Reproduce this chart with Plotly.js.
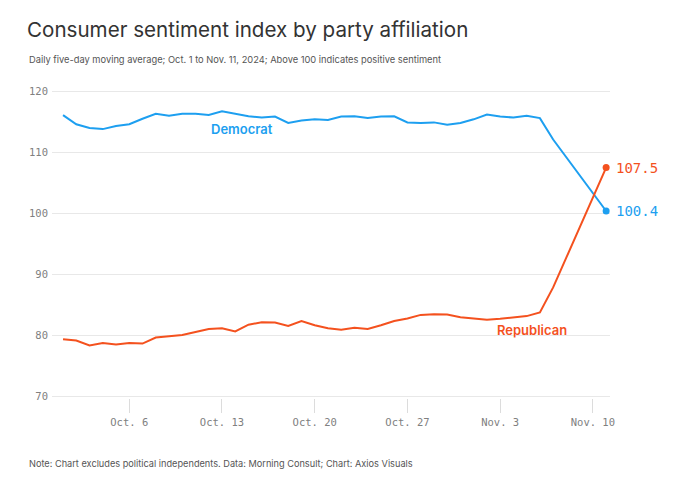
<!DOCTYPE html>
<html>
<head>
<meta charset="utf-8">
<script src="https://cdn.plot.ly/plotly-3.0.1.min.js"></script>
<style>html,body{margin:0;padding:0;background:#fff;}#chart{width:680px;height:483px;}</style>
</head>
<body>
<div id="chart"></div>
<script>
// Dates: Oct. 1 to Nov. 11, 2024 (daily)
const nDays = 42;
const dates = [];
for (let i = 0; i < nDays; i++) {
  const d = new Date(Date.UTC(2024, 9, 1 + i));
  dates.push(d.toISOString().slice(0, 10));
}

const democrat = [116.1, 114.6, 114.0, 113.8, 114.3, 114.6, 115.5, 116.3, 116.0, 116.3,
  116.3, 116.1, 116.7, 116.3, 115.9, 115.7, 115.85, 114.8, 115.2, 115.4,
  115.3, 115.85, 115.9, 115.6, 115.85, 115.9, 114.9, 114.8, 114.9, 114.5,
  114.8, 115.4, 116.2, 115.85, 115.7, 116.0, 115.6, 112.1, 109.2, 106.3,
  103.2, 100.4];

const republican = [79.4, 79.2, 78.4, 78.8, 78.55, 78.8, 78.7, 79.7, 79.9, 80.1,
  80.6, 81.1, 81.2, 80.7, 81.8, 82.2, 82.15, 81.6, 82.4, 81.7,
  81.2, 80.95, 81.3, 81.1, 81.7, 82.4, 82.8, 83.4, 83.5, 83.45,
  83.0, 82.75, 82.6, 82.75, 82.95, 83.2, 83.8, 87.9, 92.8, 97.8,
  102.7, 107.5];

const xTickVals = ['2024-10-06', '2024-10-13', '2024-10-20', '2024-10-27', '2024-11-03', '2024-11-10'];
const xTickText = ['Oct. 6', 'Oct. 13', 'Oct. 20', 'Oct. 27', 'Nov. 3', 'Nov. 10'];
const yTickVals = [70, 80, 90, 100, 110, 120];

const blue = '#1d9ff0';
const red = '#f4511e';
const last = dates.length - 1;

const traces = [
  {x: dates, y: democrat, type: 'scatter', mode: 'lines', line: {color: blue, width: 2}, hoverinfo: 'skip'},
  {x: dates, y: republican, type: 'scatter', mode: 'lines', line: {color: red, width: 2}, hoverinfo: 'skip'},
  {x: [dates[last]], y: [democrat[last]], type: 'scatter', mode: 'markers', marker: {color: blue, size: 7}, hoverinfo: 'skip'},
  {x: [dates[last]], y: [republican[last]], type: 'scatter', mode: 'markers', marker: {color: red, size: 7}, hoverinfo: 'skip'}
];

const monoFont = 'DejaVu Sans Mono, Liberation Mono, monospace';
const sansFont = 'Inter, Lato, Noto Sans, sans-serif';

// plot area: left 52, right 610, top 90, bottom 398
const W = 680, H = 483, ML = 52, MR = 70, MT = 90, MB = 85;
const PW = W - ML - MR, PH = H - MT - MB;
const px = (xp) => (xp - ML) / PW;
const py = (yp) => (H - MB - yp) / PH;

const layout = {
  width: W, height: H,
  margin: {l: ML, r: MR, t: MT, b: MB},
  paper_bgcolor: '#fff', plot_bgcolor: '#fff',
  showlegend: false,
  title: {
    text: 'Consumer sentiment index by party affiliation',
    x: 27 / W, xanchor: 'left', xref: 'container',
    y: 1 - 30 / H, yanchor: 'middle', yref: 'container',
    font: {family: sansFont, size: 20.6, color: '#333'}
  },
  xaxis: {
    type: 'date',
    range: ['2024-09-30 04:00', '2024-11-11 07:00'],
    tickvals: xTickVals, ticktext: xTickText,
    ticks: 'outside', ticklen: 14, tickcolor: '#dcdcdc', tickwidth: 1,
    showgrid: false, zeroline: false, showline: false,
    tickfont: {family: monoFont, size: 10.5, color: '#808080'}
  },
  yaxis: {
    range: [69.8, 120.2],
    tickvals: yTickVals,
    showgrid: true, gridcolor: '#e8e8e8', gridwidth: 1,
    zeroline: false, showline: false, ticks: '',
    ticklabelstandoff: 3,
    tickfont: {family: monoFont, size: 10.5, color: '#808080'}
  },
  annotations: [
    {xref: 'paper', yref: 'paper', x: px(27), y: py(59), xanchor: 'left', yanchor: 'middle',
     text: 'Daily five-day moving average; Oct. 1 to Nov. 11, 2024; Above 100 indicates positive sentiment',
     showarrow: false, font: {family: sansFont, size: 9.3, color: '#555'}},
    {xref: 'paper', yref: 'paper', x: px(27), y: py(463), xanchor: 'left', yanchor: 'middle',
     text: 'Note: Chart excludes political independents. Data: Morning Consult; Chart: Axios Visuals',
     showarrow: false, font: {family: sansFont, size: 9.2, color: '#555'}},
    {x: dates[last], y: republican[last], xanchor: 'left', yanchor: 'middle', xshift: 8,
     text: '107.5', showarrow: false, font: {family: monoFont, size: 14, color: red}},
    {x: dates[last], y: democrat[last], xanchor: 'left', yanchor: 'middle', xshift: 8,
     text: '100.4', showarrow: false, font: {family: monoFont, size: 14, color: blue}},
    {x: '2024-10-14 12:00', y: 113.8, xanchor: 'center', yanchor: 'middle',
     text: 'Democrat', showarrow: false, font: {family: sansFont, size: 13, color: blue, weight: 600}},
    {x: '2024-11-05 10:00', y: 81.0, xanchor: 'center', yanchor: 'middle',
     text: 'Republican', showarrow: false, font: {family: sansFont, size: 13, color: red, weight: 600}}
  ]
};

Plotly.newPlot('chart', traces, layout, {displayModeBar: false, staticPlot: true});
</script>
</body>
</html>
